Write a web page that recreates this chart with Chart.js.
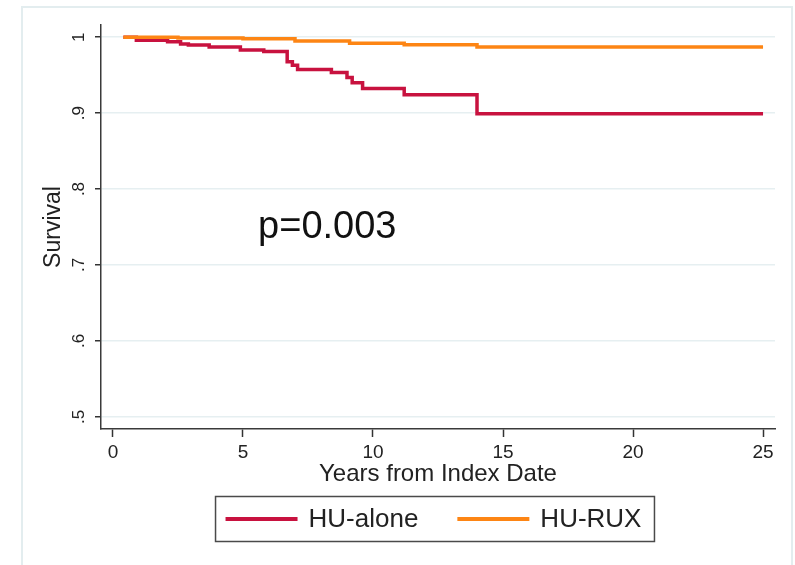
<!DOCTYPE html>
<html>
<head>
<meta charset="utf-8">
<script src="https://cdn.jsdelivr.net/npm/chart.js@4.4.1/dist/chart.umd.min.js"></script>
<style>
  html, body { margin: 0; padding: 0; background: #fff; }
  #wrap { position: relative; width: 795px; height: 565px; overflow: hidden; }
  #frame { position: absolute; left: 21px; top: 6px; width: 768px; height: 600px; border: 2px solid #e3edef; pointer-events: none; }
</style>
</head>
<body>
<div id="wrap">
  <canvas id="km" width="795" height="565"></canvas>
  <div id="frame"></div>
</div>
<script>
// Kaplan-Meier steps (years, survival)
var aloneYears = [0.4, 0.9, 2.1, 2.6, 2.9, 3.7, 4.9, 5.8, 6.7, 6.9, 7.1, 8.4, 9.0, 9.2, 9.6, 11.2, 14.0, 25]
var aloneSurv = [1.0, 0.996, 0.994, 0.991, 0.9895, 0.987, 0.983, 0.981, 0.9675, 0.963, 0.9575, 0.9535, 0.947, 0.940, 0.9325, 0.924, 0.899, 0.899]
var ruxYears = [0.4, 2.5, 5.0, 7.0, 9.1, 11.2, 14.0, 25]
var ruxSurv = [1.0, 0.999, 0.998, 0.995, 0.992, 0.990, 0.987, 0.987]

var seriesNames = ['HU-alone', 'HU-RUX']
var seriesColors = ['#c8123f', '#fd8514']

var xTicks = [0, 5, 10, 15, 20, 25]
var yTicks = [0.5, 0.6, 0.7, 0.8, 0.9, 1]
var yTickLabels = ['.5', '.6', '.7', '.8', '.9', '1']

var pText = 'p=0.003'
var pPos = [5.58, 0.749]

var FONT = '"Liberation Sans", Arial, sans-serif'

function toPoints(xs, ys) {
    return xs.map(function (x, i) { return { x: x, y: ys[i] } })
}

// p value note + boxed legend (Stata style)
var extras = {
    id: 'extras',
    afterDraw: function (chart) {
        var ctx = chart.ctx
        var xs = chart.scales.x, ys = chart.scales.y
        ctx.save()

        ctx.font = '38px ' + FONT
        ctx.fillStyle = '#111'
        ctx.textBaseline = 'middle'
        ctx.textAlign = 'left'
        ctx.fillText(pText, xs.getPixelForValue(pPos[0]), ys.getPixelForValue(pPos[1]))

        ctx.font = '26px ' + FONT
        var sets = chart.data.datasets
        var lineW = 72, gap = 11, between = 39, padL = 10, padR = 13
        var total = padL + padR
        sets.forEach(function (ds, i) {
            total += lineW + gap + ctx.measureText(ds.label).width
            if (i > 0) total += between
        })
        var area = chart.chartArea
        var left = (area.left + area.right) / 2 - total / 2 - 3
        var cy = xs.bottom + 29

        ctx.strokeStyle = '#4a4a4a'
        ctx.lineWidth = 1.5
        ctx.strokeRect(left, cy - 22.5, total, 45)

        var x = left + padL
        sets.forEach(function (ds, i) {
            ctx.strokeStyle = ds.borderColor
            ctx.lineWidth = 4
            ctx.beginPath()
            ctx.moveTo(x, cy)
            ctx.lineTo(x + lineW, cy)
            ctx.stroke()
            x += lineW + gap
            ctx.fillStyle = '#222'
            ctx.fillText(ds.label, x, cy + 1)
            x += ctx.measureText(ds.label).width + between
        })
        ctx.restore()
    }
}

Chart.defaults.font.family = FONT

new Chart(document.getElementById('km'), {
    type: 'line',
    data: {
        datasets: [{
            label: seriesNames[0],
            data: toPoints(aloneYears, aloneSurv),
            borderColor: seriesColors[0],
            borderWidth: 3.5,
            stepped: 'before',
            pointRadius: 0,
            order: 2
        }, {
            label: seriesNames[1],
            data: toPoints(ruxYears, ruxSurv),
            borderColor: seriesColors[1],
            borderWidth: 3.5,
            stepped: 'before',
            pointRadius: 0,
            order: 1
        }]
    },
    options: {
        responsive: false,
        animation: false,
        layout: { padding: { left: 30, right: 20, top: 25, bottom: 75 } },
        plugins: {
            legend: { display: false },
            tooltip: { enabled: false }
        },
        scales: {
            x: {
                type: 'linear',
                min: -0.46,
                max: 25.46,
                afterBuildTicks: function (axis) { axis.ticks = xTicks.map(function (v) { return { value: v } }) },
                afterFit: function (axis) { axis.height = 61 },
                grid: { drawOnChartArea: false, color: '#333', tickLength: 8, tickWidth: 1.5 },
                border: { color: '#3a3a3a', width: 1.5 },
                ticks: { color: '#222', padding: 4, font: { size: 19 }, maxRotation: 0, autoSkip: false },
                title: { display: true, text: 'Years from Index Date', color: '#222', font: { size: 24 }, padding: { top: 0, bottom: 1 } }
            },
            y: {
                min: 0.484,
                max: 1.016,
                afterBuildTicks: function (axis) { axis.ticks = yTicks.map(function (v) { return { value: v } }) },
                afterFit: function (axis) { axis.width = 71 },
                grid: { color: '#e6eff1', lineWidth: 1.5, tickColor: '#333', tickLength: 6, tickWidth: 1.5 },
                border: { color: '#3a3a3a', width: 1.5 },
                ticks: {
                    callback: function (v) { return yTickLabels[yTicks.indexOf(v)] },
                    minRotation: 90, maxRotation: 90, crossAlign: 'center',
                    padding: 9, color: '#222', font: { size: 17 }, autoSkip: false
                },
                title: { display: true, text: 'Survival', color: '#222', font: { size: 23 }, padding: { top: 10, bottom: 0 } }
            }
        }
    },
    plugins: [extras]
})
</script>
</body>
</html>
